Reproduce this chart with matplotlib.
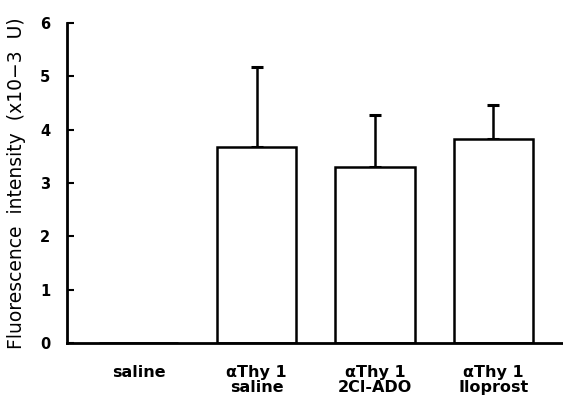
import matplotlib
matplotlib.use('Agg')
import matplotlib.pyplot as plt
import numpy as np

# --- Data ---
categories = ['saline', 'αThy 1\nsaline', 'αThy 1\n2Cl-ADO', 'αThy 1\nIloprost']
means = [0.0, 3.68, 3.30, 3.82]
sd_upper = [0.0, 1.50, 0.98, 0.65]
yticks = [0, 1, 2, 3, 4, 5, 6]

plt.rcParams['font.family'] = ['DejaVu Sans']

fig = plt.figure(figsize=(5.63, 3.98), dpi=100)
ax = fig.add_axes([0.119, 0.138, 0.9, 0.804])

x = np.arange(len(categories))
ax.bar(x, means, width=0.67, facecolor='white', edgecolor='black',
       linewidth=1.8, zorder=2)
ax.errorbar(x[1:], means[1:], yerr=[np.zeros(3), sd_upper[1:]], fmt='none',
            ecolor='black', elinewidth=1.8, capsize=4, capthick=2.2, zorder=1)

ax.set_xlim(-0.605, 3.68)
ax.set_ylim(0, 6)
ax.set_yticks(yticks)
ax.set_yticklabels([str(v) for v in yticks], fontsize=10.5, fontweight='bold')
ax.tick_params(axis='y', direction='in', length=5, width=1.5, pad=12)
ax.tick_params(axis='x', length=0, pad=16)
ax.set_xticks(x)
ax.set_xticklabels(categories, fontsize=11.5, fontweight='bold', linespacing=1.0)

for s in ['top', 'right']:
    ax.spines[s].set_visible(False)
for s in ['left', 'bottom']:
    ax.spines[s].set_linewidth(2)

ax.set_ylabel('Fluorescence  intensity  (x10\u22123  U)', fontsize=13.5, labelpad=10)

fig.savefig('out.png', dpi=100)
